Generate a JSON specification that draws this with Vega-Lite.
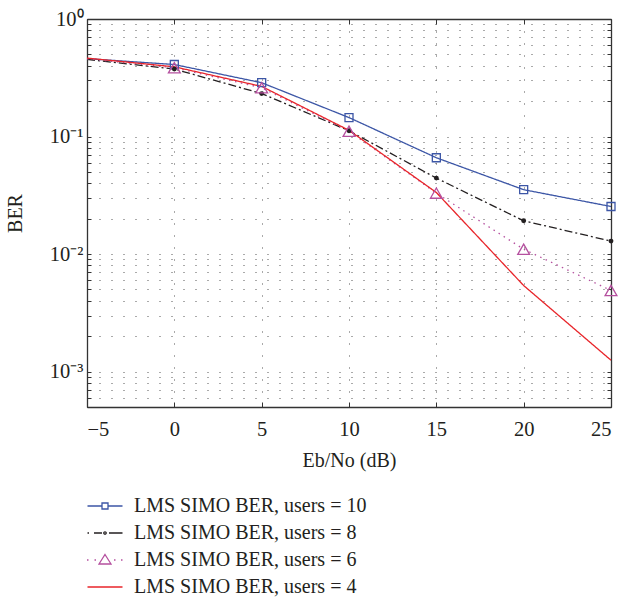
{
  "$schema": "https://vega.github.io/schema/vega-lite/v6.json",
  "width": 524,
  "height": 388,
  "autosize": "none",
  "padding": {"left": 87, "top": 19, "right": 11, "bottom": 192},
  "config": {
    "view": {"stroke": null},
    "font": "Liberation Serif",
    "axis": {
      "labelFont": "Liberation Serif",
      "titleFont": "Liberation Serif",
      "labelFontSize": 20.5,
      "titleFontSize": 20,
      "labelColor": "#231f20",
      "titleColor": "#231f20",
      "titleFontWeight": "normal",
      "domainColor": "#333333",
      "domainWidth": 1.3,
      "tickColor": "#333333",
      "tickWidth": 1
    },
    "legend": {
      "labelFont": "Liberation Serif",
      "labelFontSize": 20,
      "labelColor": "#231f20",
      "labelLimit": 400
    }
  },
  "data": {
    "values": [
      {"series": "LMS SIMO BER, users = 10", "snr": -5, "ber": 0.46},
      {"series": "LMS SIMO BER, users = 10", "snr": 0, "ber": 0.41},
      {"series": "LMS SIMO BER, users = 10", "snr": 5, "ber": 0.287},
      {"series": "LMS SIMO BER, users = 10", "snr": 10, "ber": 0.145},
      {"series": "LMS SIMO BER, users = 10", "snr": 15, "ber": 0.066},
      {"series": "LMS SIMO BER, users = 10", "snr": 20, "ber": 0.0353},
      {"series": "LMS SIMO BER, users = 10", "snr": 25, "ber": 0.0254},
      {"series": "LMS SIMO BER, users = 8", "snr": -5, "ber": 0.453},
      {"series": "LMS SIMO BER, users = 8", "snr": 0, "ber": 0.375},
      {"series": "LMS SIMO BER, users = 8", "snr": 5, "ber": 0.232},
      {"series": "LMS SIMO BER, users = 8", "snr": 10, "ber": 0.112},
      {"series": "LMS SIMO BER, users = 8", "snr": 15, "ber": 0.0443},
      {"series": "LMS SIMO BER, users = 8", "snr": 20, "ber": 0.0192},
      {"series": "LMS SIMO BER, users = 8", "snr": 25, "ber": 0.0129},
      {"series": "LMS SIMO BER, users = 6", "snr": -5, "ber": 0.458},
      {"series": "LMS SIMO BER, users = 6", "snr": 0, "ber": 0.385},
      {"series": "LMS SIMO BER, users = 6", "snr": 5, "ber": 0.26},
      {"series": "LMS SIMO BER, users = 6", "snr": 10, "ber": 0.111},
      {"series": "LMS SIMO BER, users = 6", "snr": 15, "ber": 0.033},
      {"series": "LMS SIMO BER, users = 6", "snr": 20, "ber": 0.011},
      {"series": "LMS SIMO BER, users = 6", "snr": 25, "ber": 0.0049},
      {"series": "LMS SIMO BER, users = 4", "snr": -5, "ber": 0.465},
      {"series": "LMS SIMO BER, users = 4", "snr": 0, "ber": 0.392},
      {"series": "LMS SIMO BER, users = 4", "snr": 5, "ber": 0.267},
      {"series": "LMS SIMO BER, users = 4", "snr": 10, "ber": 0.113},
      {"series": "LMS SIMO BER, users = 4", "snr": 15, "ber": 0.0334},
      {"series": "LMS SIMO BER, users = 4", "snr": 20, "ber": 0.0054},
      {"series": "LMS SIMO BER, users = 4", "snr": 25, "ber": 0.00125}
    ]
  },
  "layer": [
    {
      "mark": {"type": "line", "strokeWidth": 1.3},
      "encoding": {
        "x": {
          "field": "snr",
          "type": "quantitative",
          "scale": {"domain": [-5, 25], "nice": false, "zero": false},
          "axis": {
            "orient": "bottom",
            "values": [-5, 0, 5, 10, 15, 20, 25],
            "grid": true,
            "gridColor": "#555555",
            "gridDash": [1, 11],
            "gridWidth": 1,
            "tickSize": -5,
            "labelFont": "Liberation Serif",
            "labelFontSize": 20.5,
            "labelPadding": 17,
            "title": "Eb/No (dB)",
            "titleFont": "Liberation Serif",
            "titleFontSize": 20,
            "titlePadding": 11
          }
        },
        "y": {
          "field": "ber",
          "type": "quantitative",
          "scale": {"type": "log", "domain": [0.0005, 1], "nice": false},
          "axis": {
            "orient": "left",
            "values": [0.0005, 0.0006, 0.0007, 0.0008, 0.0009, 0.001, 0.002, 0.003, 0.004, 0.005, 0.006, 0.007, 0.008, 0.009, 0.01, 0.02, 0.03, 0.04, 0.05, 0.06, 0.07, 0.08, 0.09, 0.1, 0.2, 0.3, 0.4, 0.5, 0.6, 0.7, 0.8, 0.9, 1],
            "grid": true,
            "gridColor": "#555555",
            "gridDash": [1, 11],
            "gridWidth": 1,
            "tickSize": -4,
            "labelFont": "Liberation Serif",
            "labelFontSize": 20.5,
            "labelPadding": 8,
            "labelExpr": "datum.value == 1 ? '10⁰' : datum.value == 0.1 ? '10⁻¹' : datum.value == 0.01 ? '10⁻²' : datum.value == 0.001 ? '10⁻³' : ''",
            "title": "BER",
            "titleFont": "Liberation Serif",
            "titleFontSize": 20,
            "titlePadding": 24
          }
        },
        "stroke": {
          "field": "series",
          "type": "nominal",
          "scale": {
            "domain": ["LMS SIMO BER, users = 4", "LMS SIMO BER, users = 6", "LMS SIMO BER, users = 8", "LMS SIMO BER, users = 10"],
            "range": ["#e8252a", "#b5509f", "#231f20", "#3c56a6"]
          },
          "legend": null
        },
        "strokeDash": {
          "field": "series",
          "type": "nominal",
          "scale": {
            "domain": ["LMS SIMO BER, users = 4", "LMS SIMO BER, users = 6", "LMS SIMO BER, users = 8", "LMS SIMO BER, users = 10"],
            "range": [[1, 0], [1.5, 4.5], [8, 3, 2, 3], [1, 0]]
          },
          "legend": null
        }
      }
    },
    {
      "transform": [{"filter": "datum.snr >= 0 && datum.series == 'LMS SIMO BER, users = 10'"}],
      "mark": {"type": "point", "shape": "square", "size": 64, "strokeWidth": 1.3, "color": "#3c56a6", "opacity": 1},
      "encoding": {
        "x": {
          "field": "snr",
          "type": "quantitative",
          "axis": {
            "orient": "top",
            "values": [-5, 0, 5, 10, 15, 20, 25],
            "labels": false,
            "grid": false,
            "tickSize": -5,
            "title": null
          }
        },
        "y": {
          "field": "ber",
          "type": "quantitative",
          "axis": {
            "orient": "right",
            "values": [0.0005, 0.0006, 0.0007, 0.0008, 0.0009, 0.001, 0.002, 0.003, 0.004, 0.005, 0.006, 0.007, 0.008, 0.009, 0.01, 0.02, 0.03, 0.04, 0.05, 0.06, 0.07, 0.08, 0.09, 0.1, 0.2, 0.3, 0.4, 0.5, 0.6, 0.7, 0.8, 0.9, 1],
            "labels": false,
            "grid": false,
            "tickSize": -4,
            "title": null
          }
        }
      }
    },
    {
      "transform": [{"filter": "datum.snr >= 0 && datum.series == 'LMS SIMO BER, users = 8'"}],
      "mark": {"type": "point", "shape": "circle", "size": 24, "filled": true, "color": "#231f20", "opacity": 1},
      "encoding": {
        "x": {"field": "snr", "type": "quantitative", "axis": null},
        "y": {"field": "ber", "type": "quantitative", "axis": null}
      }
    },
    {
      "transform": [{"filter": "datum.snr >= 0 && datum.series == 'LMS SIMO BER, users = 6'"}],
      "mark": {"type": "point", "shape": "triangle-up", "size": 140, "strokeWidth": 1.3, "color": "#b5509f", "opacity": 1},
      "encoding": {
        "x": {"field": "snr", "type": "quantitative", "axis": null},
        "y": {"field": "ber", "type": "quantitative", "axis": null}
      }
    },
    {
      "transform": [{"filter": "datum.snr > 100"}],
      "mark": {"type": "point", "size": 400, "strokeWidth": 1.3, "opacity": 1},
      "encoding": {
        "x": {"field": "snr", "type": "quantitative", "axis": null},
        "y": {"field": "ber", "type": "quantitative", "axis": null},
        "color": {
          "field": "series",
          "type": "nominal",
          "scale": {
            "domain": ["LMS SIMO BER, users = 10", "LMS SIMO BER, users = 8", "LMS SIMO BER, users = 6", "LMS SIMO BER, users = 4"],
            "range": ["#3c56a6", "#231f20", "#b5509f", "#e8252a"]
          },
          "legend": {
            "title": null,
            "orient": "none",
            "legendX": 7,
            "legendY": 476,
            "direction": "vertical",
            "padding": 0,
            "symbolSize": 400,
            "symbolStrokeWidth": 1.3,
            "symbolOpacity": 1,
            "labelOffset": 18,
            "rowPadding": 6
          }
        },
        "shape": {
          "field": "series",
          "type": "nominal",
          "scale": {
            "domain": ["LMS SIMO BER, users = 10", "LMS SIMO BER, users = 8", "LMS SIMO BER, users = 6", "LMS SIMO BER, users = 4"],
            "range": [
              "M-1.75,0H-0.3M0.3,0H1.75M-0.3,-0.3H0.3V0.3H-0.3Z",
              "M-1.75,0H-1.6M-1.1,0H-0.3M0.4,0H1.75M-0.12,0A0.12,0.12 0 1,0 0.12,0A0.12,0.12 0 1,0 -0.12,0Z",
              "M-1.8,0H-1.65M-1.05,0H-0.9M0.9,0H1.05M1.6,0H1.75M0,-0.55L0.6,0.4L-0.6,0.4Z",
              "M-1.75,0H1.75"
            ]
          },
          "legend": {
            "title": null,
            "orient": "none",
            "legendX": 7,
            "legendY": 476,
            "direction": "vertical",
            "padding": 0,
            "symbolSize": 400,
            "symbolStrokeWidth": 1.3,
            "symbolOpacity": 1,
            "labelOffset": 18,
            "rowPadding": 6
          }
        }
      }
    }
  ],
  "resolve": {"axis": {"x": "independent", "y": "independent"}}
}
